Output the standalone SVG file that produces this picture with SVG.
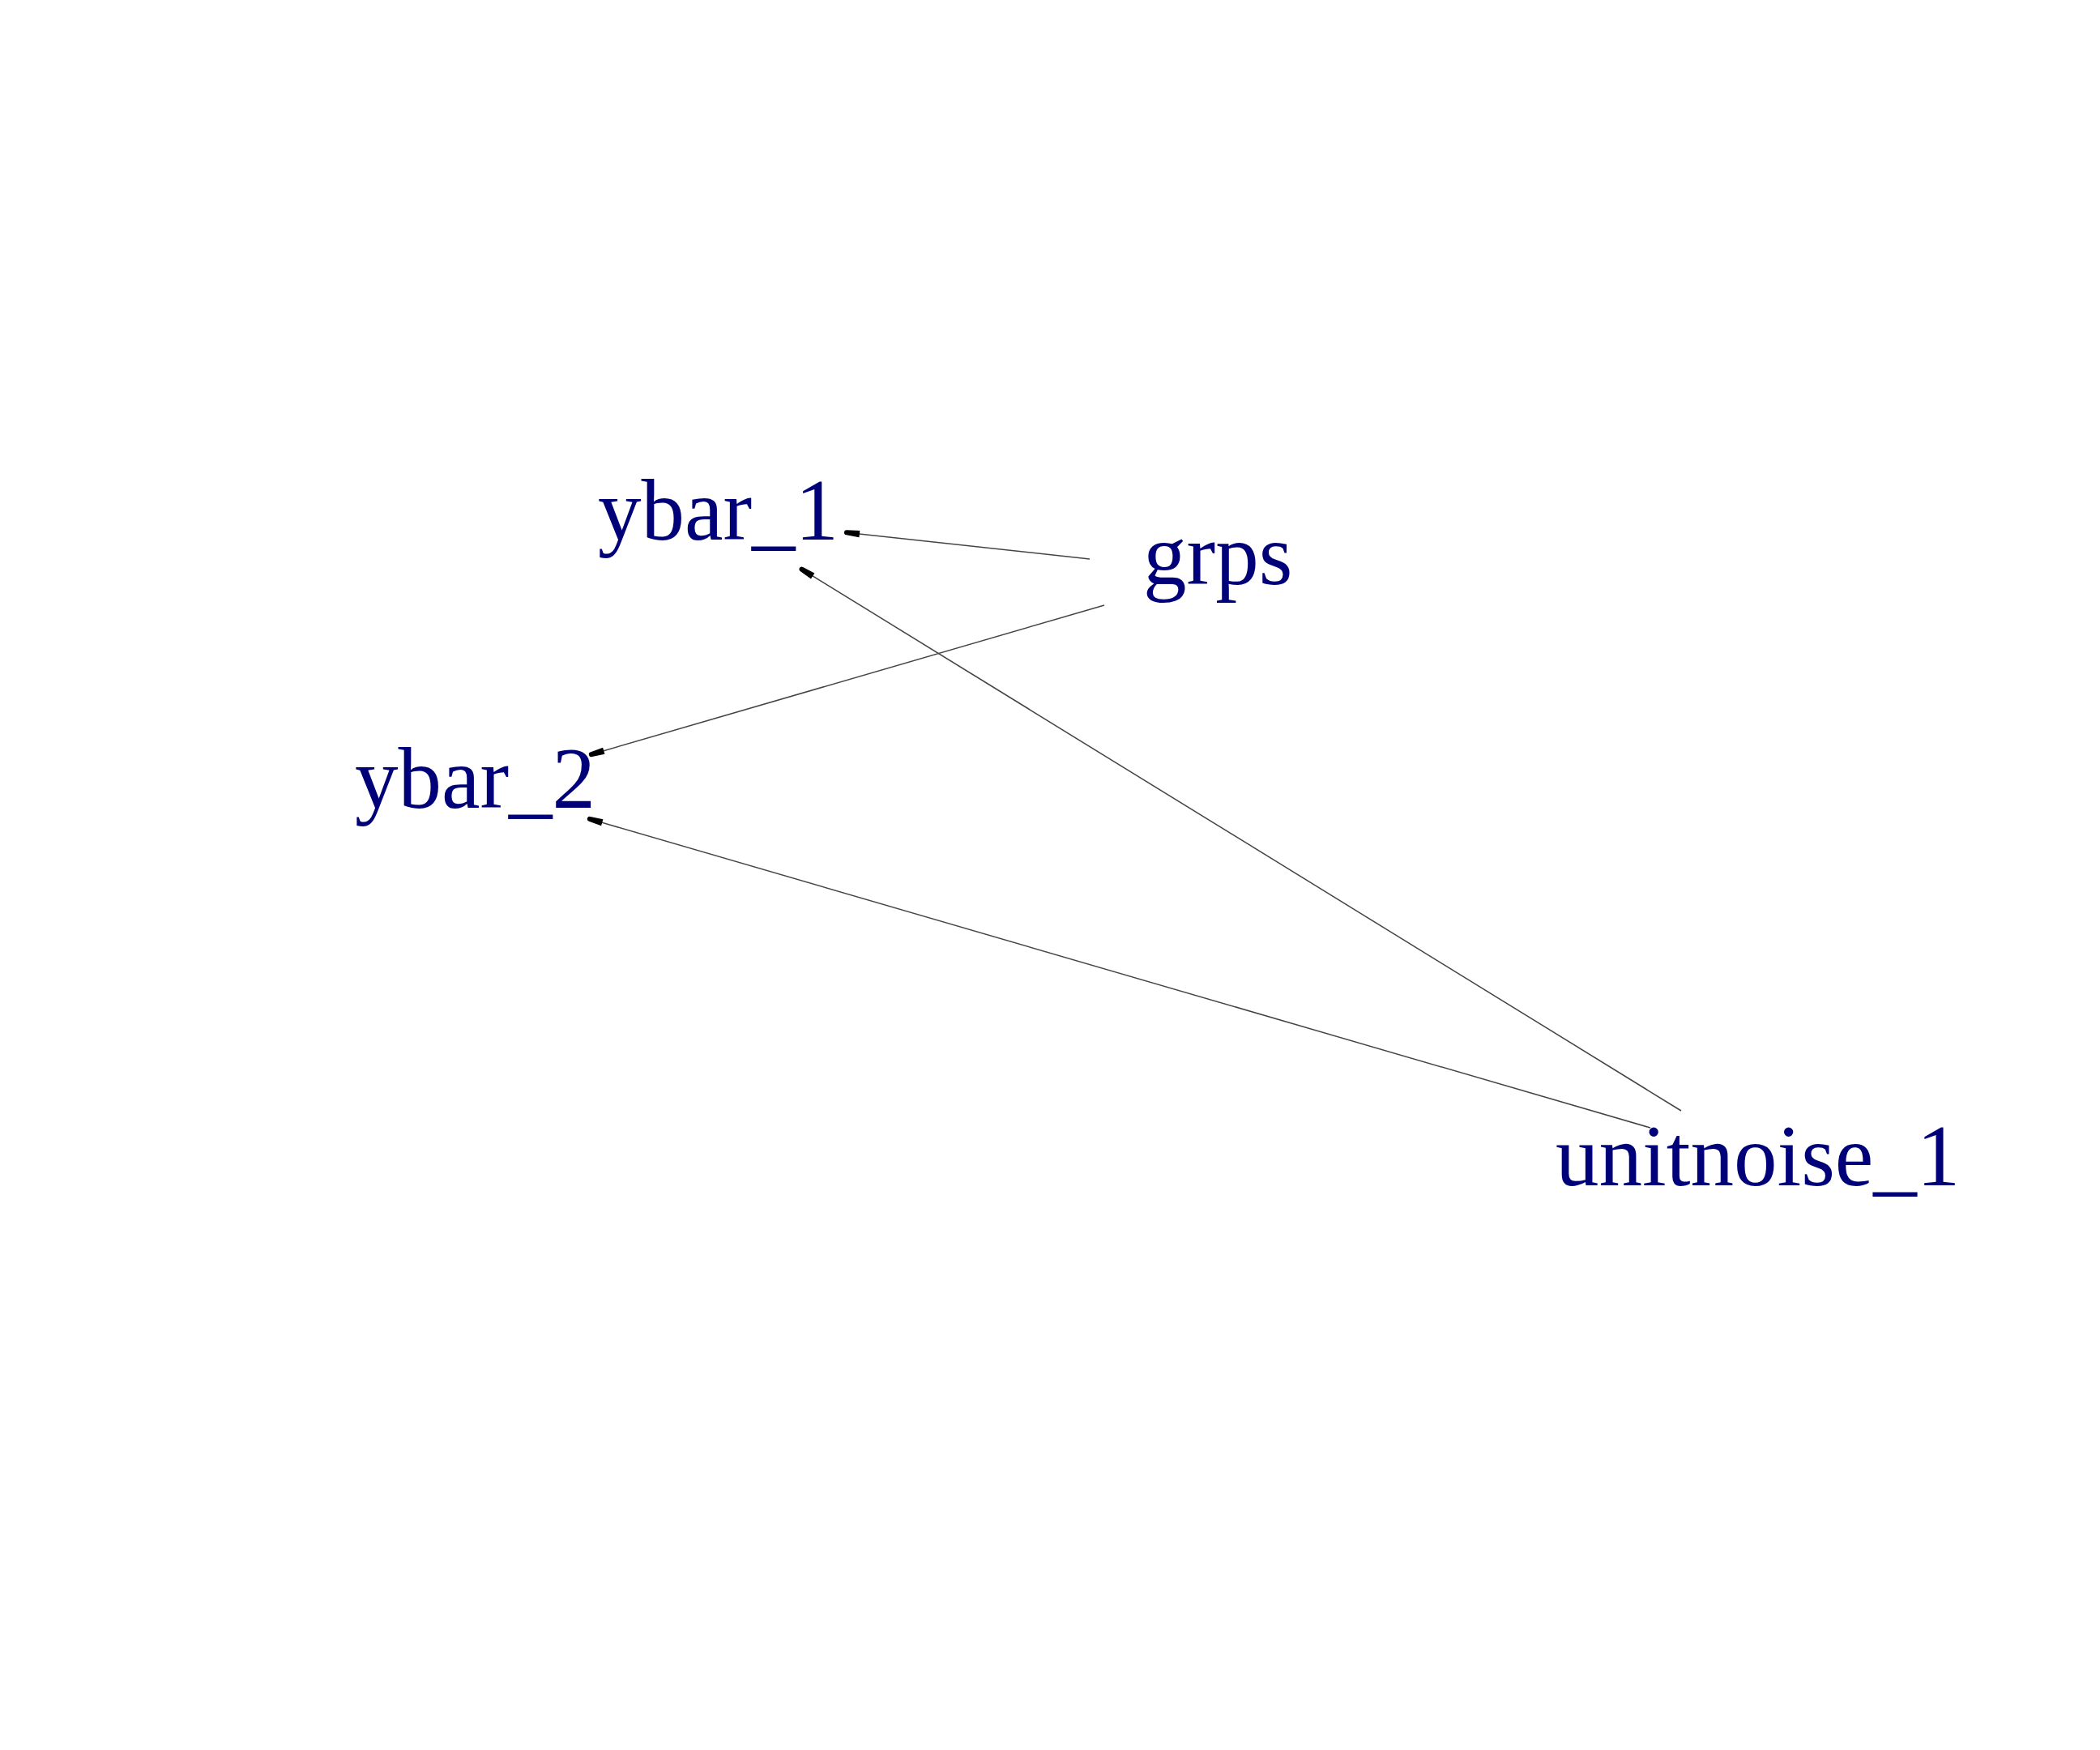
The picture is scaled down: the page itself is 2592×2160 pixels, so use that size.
<svg xmlns="http://www.w3.org/2000/svg" width="2592" height="2160" viewBox="0 0 2592 2160">
<style>
.lbl{font-family:"Liberation Serif","Times New Roman",serif;font-size:107px;fill:#000078}
.edge{stroke:#444444;stroke-width:1.5;fill:none}
</style>
<defs>
<marker id="ah" markerUnits="userSpaceOnUse" markerWidth="26" markerHeight="14" viewBox="-23 -7 26 14" refX="0" refY="0" orient="auto">
<path d="M-19,-4.2 L-3,-3 A3,3 0 0 1 -3,3 L-19,4.2 Z" fill="#000000"/>
</marker>
</defs>
<rect width="2592" height="2160" fill="#ffffff"/>
<g id="connectors">
<line class="edge" x1="1345" y1="690" x2="1042" y2="657" marker-end="url(#ah)"/>
<line class="edge" x1="2075" y1="1371" x2="987" y2="701" marker-end="url(#ah)"/>
<line class="edge" x1="1363" y1="747" x2="727" y2="932" marker-end="url(#ah)"/>
<line class="edge" x1="2037" y1="1392" x2="725" y2="1010" marker-end="url(#ah)"/>
</g>
<g id="node-ybar_1"><text class="lbl" x="738" y="666">ybar_1</text></g>
<g id="node-grps"><text class="lbl" x="1411" y="721">grps</text></g>
<g id="node-ybar_2"><text class="lbl" x="438" y="997">ybar_2</text></g>
<g id="node-unitnoise_1"><text class="lbl" x="1920" y="1463">unitnoise_1</text></g>
</svg>
